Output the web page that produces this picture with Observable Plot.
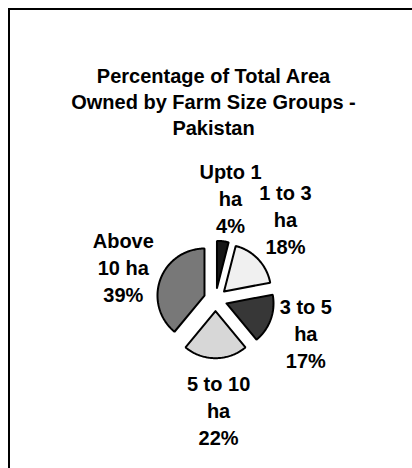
<!DOCTYPE html>
<html>
<head>
<meta charset="utf-8">
<script src="https://cdn.jsdelivr.net/npm/d3@7"></script>
<script src="https://cdn.jsdelivr.net/npm/@observablehq/plot@0.6"></script>
<style>
  html, body { margin: 0; padding: 0; background: #fff; overflow: hidden; }
  #frame { position: absolute; left: 8px; top: 8px; width: 600px; height: 700px;
           border-left: 2px solid #000; border-top: 2px solid #000; }
  #chart { position: absolute; left: 0; top: 0; }
  svg { font-family: "Liberation Sans", Arial, sans-serif; }
</style>
</head>
<body>
<div id="frame"></div>
<div id="chart"></div>
<script>
// ---- data ----
const categories = ["Upto 1 ha", "1 to 3 ha", "3 to 5 ha", "5 to 10 ha", "Above 10 ha"];
const shares = [4, 18, 17, 22, 39];
const labelTexts = ["Upto 1\nha", "1 to 3\nha", "3 to 5\nha", "5 to 10\nha", "Above\n10 ha"];
const titleLines = ["Percentage of Total Area", "Owned by Farm Size Groups -", "Pakistan"];

// ---- layout ----
const W = 412, H = 468;
const cx = 215, cy = 299, R = 47, explode = 11.7;
const labelDist = [103, 107, 96, 110, 98];
const labelShift = [1.2, -6, 0, -1.6, 0];
const patternIds = ["p0", "p1", "p2", "p3", "p4"];

const arcs = d3.pie().sort(null).value(d => d.share)(
  categories.map((c, i) => ({category: c, share: shares[i], i}))
);

const slicePts = [];
const labels = [];
arcs.forEach(a => {
  const i = a.data.i;
  const mid = (a.startAngle + a.endAngle) / 2;
  const ox = cx + explode * Math.sin(mid), oy = cy - explode * Math.cos(mid);
  const pts = [[ox, oy]];
  const n = Math.max(4, Math.ceil((a.endAngle - a.startAngle) / 0.02));
  for (let k = 0; k <= n; k++) {
    const t = a.startAngle + (a.endAngle - a.startAngle) * k / n;
    pts.push([ox + R * Math.sin(t), oy - R * Math.cos(t)]);
  }
  pts.push([ox, oy]);
  pts.forEach(p => slicePts.push({x: p[0], y: p[1], category: a.data.category, fill: `url(#${patternIds[i]})`}));
  const la = mid + labelShift[i] * Math.PI / 180;
  labels.push({
    x: cx + labelDist[i] * Math.sin(la),
    y: cy - labelDist[i] * Math.cos(la),
    text: `${labelTexts[i]}\n${a.data.share}%`
  });
});

const plot = Plot.plot({
  width: W, height: H,
  margin: 0,
  x: {domain: [0, W], range: [0, W], axis: null},
  y: {domain: [0, H], range: [0, H], axis: null},
  color: {type: "identity"},
  marks: [
    Plot.line(slicePts, {x: "x", y: "y", z: "category", fill: "fill", stroke: "#000",
      strokeWidth: 2, strokeLinejoin: "miter", curve: "linear"}),
    Plot.text(labels, {x: "x", y: "y", text: "text", fontSize: 20, fontWeight: "bold",
      lineHeight: 1.35, textAnchor: "middle", lineAnchor: "middle", fill: "#000"}),
    Plot.text([titleLines.join("\n")], {x: () => 213, y: () => 100, text: d => d,
      fontSize: 20, fontWeight: "bold", lineHeight: 1.3, textAnchor: "middle",
      lineAnchor: "middle", fill: "#000"})
  ]
});

// pattern fills (Excel-like dotted textures)
const defs = d3.select(plot).insert("defs", ":first-child");
const pats = [
  ["#050505", "#4a4a4a"],
  ["#ffffff", "#c4c4c4"],
  ["#262626", "#6a6a6a"],
  ["#e4e4e4", "#b0b0b0"],
  ["#6c6c6c", "#9a9a9a"]
];
pats.forEach(([bg, dot], i) => {
  const p = defs.append("pattern").attr("id", patternIds[i])
    .attr("patternUnits", "userSpaceOnUse").attr("width", 2).attr("height", 2);
  p.append("rect").attr("width", 2).attr("height", 2).attr("fill", bg);
  p.append("rect").attr("width", 1).attr("height", 1).attr("fill", dot);
});

document.getElementById("chart").appendChild(plot);
</script>
</body>
</html>
